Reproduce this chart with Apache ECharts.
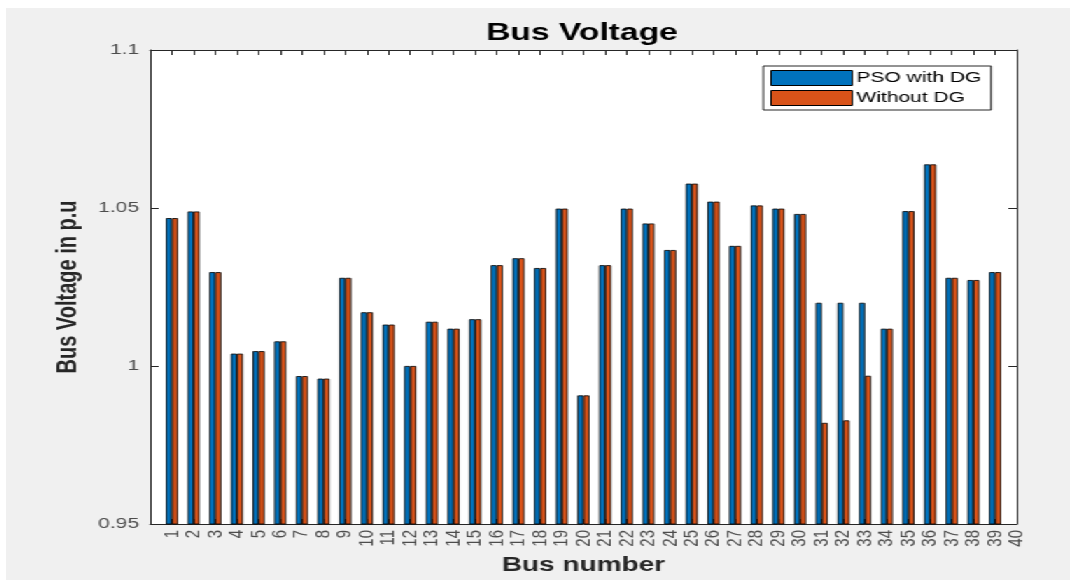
<!DOCTYPE html>
<html>
<head>
<meta charset="utf-8">
<script src="https://cdn.jsdelivr.net/npm/echarts@6/dist/echarts.min.js"></script>
<style>
  html, body { margin: 0; padding: 0; background: #ffffff; overflow: hidden; width: 1070px; height: 580px; }
  #chart { position: absolute; left: 6px; top: 8px; width: 760px; height: 572px;
           transform-origin: 0 0; transform: scaleX(1.4); background: #f0f0f0; }
</style>
</head>
<body>
<div id="chart"></div>
<script>
// ---- data ----
const buses = [1,2,3,4,5,6,7,8,9,10,11,12,13,14,15,16,17,18,19,20,21,22,23,24,25,26,27,28,29,30,31,32,33,34,35,36,37,38,39];
const psoWithDG = [1.0468, 1.0489, 1.0297, 1.0039, 1.0047, 1.0078, 0.9968, 0.9960, 1.0279, 1.0170,
                   1.0131, 1.0000, 1.0140, 1.0118, 1.0148, 1.0319, 1.0341, 1.0310, 1.0498, 0.9907,
                   1.0319, 1.0498, 1.0451, 1.0367, 1.0577, 1.0520, 1.0380, 1.0508, 1.0498, 1.0481,
                   1.0200, 1.0200, 1.0200, 1.0118, 1.0490, 1.0638, 1.0279, 1.0272, 1.0297];
const withoutDG = [1.0468, 1.0489, 1.0297, 1.0039, 1.0047, 1.0078, 0.9968, 0.9960, 1.0279, 1.0170,
                   1.0131, 1.0000, 1.0140, 1.0118, 1.0148, 1.0319, 1.0341, 1.0310, 1.0498, 0.9907,
                   1.0319, 1.0498, 1.0451, 1.0367, 1.0577, 1.0520, 1.0380, 1.0508, 1.0498, 1.0481,
                   0.9820, 0.9828, 0.9969, 1.0118, 1.0490, 1.0638, 1.0279, 1.0272, 1.0297];
const seriesNames = ['PSO with DG', 'Without DG'];
const yTicks = [0.95, 1.0, 1.05, 1.1];

const FONT = '"Liberation Sans", Arial, Helvetica, sans-serif';
const AX = '#262626';

const chart = echarts.init(document.getElementById('chart'), null, { renderer: 'canvas' });

const xCommon = {
  type: 'value', min: 0, max: 40, interval: 1,
  axisLine: { show: true, onZero: false, lineStyle: { color: AX, width: 1 } },
  axisTick: { show: true, inside: true, length: 5, lineStyle: { color: AX, width: 1 } },
  axisLabel: { show: false },
  splitLine: { show: false }
};
const yCommon = {
  type: 'value', min: yTicks[0], max: yTicks[yTicks.length - 1], interval: 0.05,
  axisLine: { show: true, onZero: false, lineStyle: { color: AX, width: 1 } },
  axisTick: { show: true, inside: true, length: 6, lineStyle: { color: AX, width: 1 } },
  axisLabel: { show: false },
  splitLine: { show: false }
};

const option = {
  backgroundColor: '#f0f0f0',
  animation: false,
  title: {
    text: 'Bus Voltage',
    left: 343, top: 13, padding: 0,
    textStyle: { fontFamily: FONT, fontSize: 24, fontWeight: 'bold', color: '#000' }
  },
  legend: {
    orient: 'vertical',
    left: 541, top: 58,
    padding: [4, 7, 4, 5],
    itemWidth: 58, itemHeight: 15, itemGap: 4,
    backgroundColor: '#ffffff',
    borderColor: AX, borderWidth: 1,
    icon: 'rect',
    itemStyle: { borderColor: '#000', borderWidth: 1 },
    textStyle: { fontFamily: FONT, fontSize: 15, color: '#000', padding: [0, 0, 0, -2] },
    data: seriesNames
  },
  grid: {
    left: 103, right: 38, top: 42, bottom: 53,
    show: true, backgroundColor: '#ffffff', borderWidth: 0,
    containLabel: false
  },
  xAxis: [
    Object.assign({}, xCommon, {
      position: 'bottom',
      name: 'Bus number', nameLocation: 'middle', nameGap: 31,
      nameTextStyle: { fontFamily: FONT, fontSize: 20, fontWeight: 'bold', color: '#262626' },
      axisLabel: {
        show: true, rotate: 90, margin: 6,
        fontFamily: FONT, fontSize: 15, color: '#4d4d4d',
        formatter: v => (v === 0 ? '' : String(v))
      }
    }),
    Object.assign({}, xCommon, { position: 'top' })
  ],
  yAxis: [
    Object.assign({}, yCommon, {
      position: 'left',
      name: 'Bus Voltage in p.u', nameLocation: 'middle', nameGap: 47,
      nameTextStyle: { fontFamily: FONT, fontSize: 20, fontWeight: 'bold', color: '#262626' },
      axisLabel: {
        show: true, margin: 8, fontFamily: FONT, fontSize: 15, color: '#4d4d4d',
        formatter: v => String(+(+v).toFixed(2))
      }
    }),
    Object.assign({}, yCommon, { position: 'right' })
  ],
  series: [
    {
      name: seriesNames[0], type: 'bar', xAxisIndex: 0, yAxisIndex: 0,
      barWidth: 4.3, barGap: '0%',
      itemStyle: { color: '#0072BD', borderColor: '#000', borderWidth: 0.8 },
      data: buses.map((b, i) => [b, psoWithDG[i]])
    },
    {
      name: seriesNames[1], type: 'bar', xAxisIndex: 0, yAxisIndex: 0,
      barWidth: 4.3, barGap: '0%',
      itemStyle: { color: '#D95319', borderColor: '#000', borderWidth: 0.8 },
      data: buses.map((b, i) => [b, withoutDG[i]])
    }
  ]
};
chart.setOption(option);
</script>
</body>
</html>
